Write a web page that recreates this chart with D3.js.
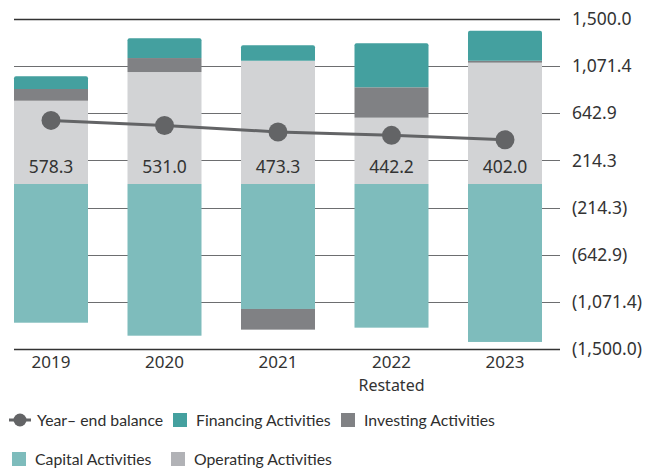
<!DOCTYPE html>
<html>
<head>
<meta charset="utf-8">
<script src="https://cdn.jsdelivr.net/npm/d3@7"></script>
<style>
  body { margin: 0; background: #fff; }
  text { font-family: "Noto Sans", "Open Sans", sans-serif; fill: #333; }
  .legend text { font-family: Lato, "Noto Sans", sans-serif; fill: #2e2e2e; }
</style>
</head>
<body>
<div id="chart-area"></div>
<script>
// data
const years = ["2019", "2020", "2021", "2022", "2023"];
const operating = [757, 1018, 1121, 603, 1103];
const investing = [107, 127, -188, 276, 18];
const financing = [115, 179, 140, 400, 273];
const capital = [-1261, -1379, -1136, -1306, -1436];
const balance = [578.3, 531.0, 473.3, 442.2, 402.0];
const yTicks = [1500, 1071.4, 642.9, 214.3, -214.3, -642.9, -1071.4, -1500];

const colours = {
    financing: "#44a09f",
    investing: "#808184",
    operating: "#d2d3d5",
    capital: "#7ebcbc",
    line: "#636466"
};

const svg = d3.select("#chart-area").append("svg")
    .attr("width", 654)
    .attr("height", 470);

const x = d3.scaleBand()
    .domain(years)
    .range([14, 542])
    .paddingInner(0.348)
    .paddingOuter(0);

const y = d3.scaleLinear()
    .domain([-1500, 1500])
    .range([349, 19]);

// gridlines
svg.append("g").selectAll("line")
    .data(yTicks)
    .enter().append("line")
    .attr("x1", 14)
    .attr("x2", 560)
    .attr("y1", d => Math.round(y(d)) + 0.5)
    .attr("y2", d => Math.round(y(d)) + 0.5)
    .attr("stroke", d => Math.abs(d) === 1500 ? "#333" : "#6d6e70")
    .attr("stroke-width", d => Math.abs(d) === 1500 ? 1.4 : 1);

// y labels
const fmt = d => {
    let s = d3.format(",.1f")(Math.abs(d));
    return d < 0 ? "(" + s + ")" : s;
};
svg.append("g").selectAll("text")
    .data(yTicks)
    .enter().append("text")
    .attr("x", 572)
    .attr("y", d => y(d))
    .attr("dy", "0.35em")
    .style("font-size", "17.5px")
    .text(fmt);

// stacked bars: positives stack upward, capital then investing stack downward
let segments = [];
years.forEach((yr, i) => {
    let pos = 0, neg = 0;
    [["operating", operating[i]], ["investing", investing[i]], ["financing", financing[i]]]
        .filter(d => d[1] >= 0)
        .forEach(([key, v]) => {
            segments.push({year: yr, key: key, y0: pos, y1: pos + v});
            pos += v;
        });
    [["capital", capital[i]], ["investing", investing[i]]]
        .filter(d => d[1] < 0)
        .forEach(([key, v]) => {
            segments.push({year: yr, key: key, y0: neg, y1: neg + v});
            neg += v;
        });
});

svg.append("g").selectAll("rect")
    .data(segments.filter(d => d.key !== "financing"))
    .enter().append("rect")
    .attr("x", d => x(d.year))
    .attr("width", x.bandwidth())
    .attr("y", d => y(Math.max(d.y0, d.y1)))
    .attr("height", d => Math.abs(y(d.y0) - y(d.y1)))
    .attr("fill", d => colours[d.key]);

// financing on top, with slightly rounded corners
svg.append("g").selectAll("path")
    .data(segments.filter(d => d.key === "financing"))
    .enter().append("path")
    .attr("fill", colours.financing)
    .attr("d", d => {
        let x0 = x(d.year), w = x.bandwidth(), t = y(d.y1), b = y(d.y0), r = 2;
        return `M${x0},${b}V${t + r}Q${x0},${t} ${x0 + r},${t}H${x0 + w - r}Q${x0 + w},${t} ${x0 + w},${t + r}V${b}Z`;
    });

// balance labels
svg.append("g").selectAll("text")
    .data(years)
    .enter().append("text")
    .attr("x", d => x(d) + x.bandwidth() / 2)
    .attr("y", 167)
    .attr("dy", "0.35em")
    .attr("text-anchor", "middle")
    .style("font-size", "17.5px")
    .text((d, i) => balance[i].toFixed(1));

// year-end balance line
const line = d3.line()
    .x((d, i) => x(years[i]) + x.bandwidth() / 2)
    .y(d => y(d));
svg.append("path")
    .datum(balance)
    .attr("d", line)
    .attr("fill", "none")
    .attr("stroke", colours.line)
    .attr("stroke-width", 3);
svg.append("g").selectAll("circle")
    .data(balance)
    .enter().append("circle")
    .attr("cx", (d, i) => x(years[i]) + x.bandwidth() / 2)
    .attr("cy", d => y(d))
    .attr("r", 9.5)
    .attr("fill", colours.line);

// x labels
svg.append("g").selectAll("text")
    .data(years)
    .enter().append("text")
    .attr("x", d => x(d) + x.bandwidth() / 2)
    .attr("y", 362)
    .attr("dy", "0.35em")
    .attr("text-anchor", "middle")
    .style("font-size", "17px")
    .text(d => d);
svg.append("text")
    .attr("x", x("2022") + x.bandwidth() / 2)
    .attr("y", 385)
    .attr("dy", "0.35em")
    .attr("text-anchor", "middle")
    .style("font-size", "16px")
    .text("Restated");

// legend
const legend = svg.append("g").attr("class", "legend");
legend.append("line")
    .attr("x1", 9).attr("x2", 31).attr("y1", 420).attr("y2", 420)
    .attr("stroke", colours.line).attr("stroke-width", 3);
legend.append("circle")
    .attr("cx", 20).attr("cy", 420).attr("r", 6.5)
    .attr("fill", colours.line);
legend.append("text")
    .attr("x", 37).attr("y", 420).attr("dy", "0.35em")
    .style("font-size", "15.8px")
    .text("Year\u2013 end balance");

const legendItems = [
    {label: "Financing Activities", colour: colours.financing, x: 173, y: 420},
    {label: "Investing Activities", colour: colours.investing, x: 341, y: 420},
    {label: "Capital Activities", colour: colours.capital, x: 12, y: 459},
    {label: "Operating Activities", colour: "#b1b2b6", x: 171, y: 459}
];
legendItems.forEach(d => {
    legend.append("rect")
        .attr("x", d.x).attr("y", d.y - 7)
        .attr("width", 14).attr("height", 14)
        .attr("fill", d.colour);
    legend.append("text")
        .attr("x", d.x + 23).attr("y", d.y).attr("dy", "0.35em")
        .style("font-size", "15.8px")
        .text(d.label);
});
</script>
</body>
</html>
